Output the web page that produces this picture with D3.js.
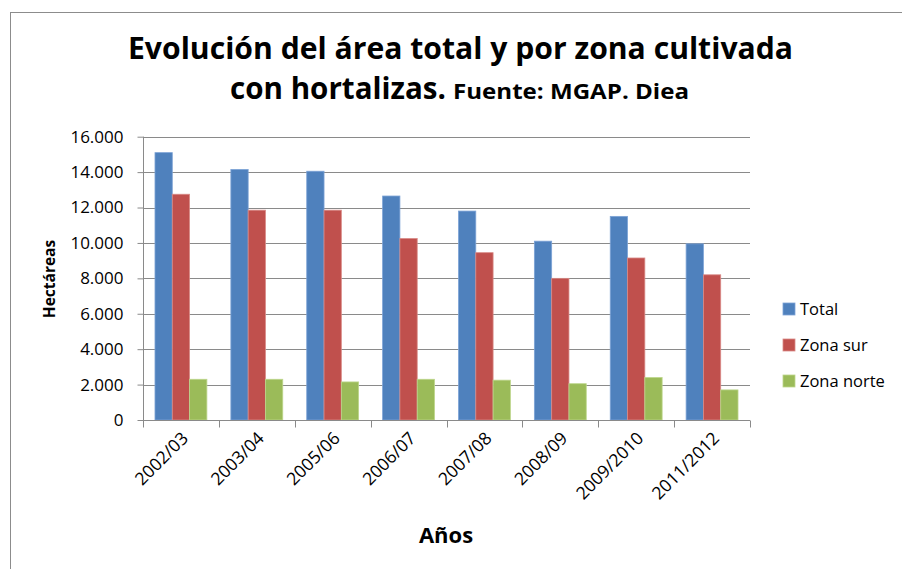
<!DOCTYPE html>
<html><head><meta charset="utf-8">
<script src="https://cdn.jsdelivr.net/npm/d3@7"></script>
<style>
body{margin:0;background:#fff;}
svg text{font-family:"Open Sans","Noto Sans",sans-serif;fill:#000;}
</style></head>
<body><svg id="c" width="902" height="569"></svg>
<script>
const categories = ["2002/03","2003/04","2005/06","2006/07","2007/08","2008/09","2009/2010","2011/2012"];
const seriesNames = ["Total","Zona sur","Zona norte"];
const total    = [15100,14150,14050,12650,11800,10100,11500,9950];
const zonaSur  = [12750,11850,11850,10250,9450,8000,9150,8200];
const zonaNorte= [2300,2300,2150,2300,2250,2050,2400,1700];
const yTicks = [0,2000,4000,6000,8000,10000,12000,14000,16000];
const colors = ["#4F81BD","#C0504D","#9BBB59"];
const strokes = ["#7DA3D6","#D98A87","#BDD68C"];

const series = [total, zonaSur, zonaNorte];
const svg = d3.select("#c");
const pLeft = 143, pRight = 750, pTop = 136.7, pBottom = 420;

// frame
svg.append("rect").attr("x",10.5).attr("y",12.5).attr("width",1000).attr("height",700)
  .attr("fill","none").attr("stroke","#8c8c8c").attr("stroke-width",1);

const x0 = d3.scaleBand().domain(categories).range([pLeft,pRight]).paddingInner(0).paddingOuter(0);
const bw = x0.bandwidth();
const x1 = d3.scaleBand().domain(seriesNames).range([bw*0.158, bw*0.842]).padding(0);
const y = d3.scaleLinear().domain([0,16000]).range([pBottom, pTop]);
const loc = d3.formatLocale({decimal:",",thousands:".",grouping:[3],currency:["$",""]});
const fmt = loc.format(",d");

// gridlines
svg.append("g").selectAll("line").data(yTicks.filter(d=>d>0)).join("line")
  .attr("x1",pLeft).attr("x2",pRight)
  .attr("y1",d=>Math.round(y(d))+0.5).attr("y2",d=>Math.round(y(d))+0.5)
  .attr("stroke","#8a8a8a").attr("stroke-width",1);

// bars
const g = svg.append("g");
categories.forEach((c,i)=>{
  seriesNames.forEach((s,j)=>{
    const v = series[j][i];
    g.append("rect")
      .attr("x", x0(c)+x1(s)).attr("width", x1.bandwidth())
      .attr("y", y(v)).attr("height", y(0)-y(v))
      .attr("fill", colors[j]).attr("stroke", strokes[j]).attr("stroke-width",0.8);
  });
});

// y axis
const yAxis = d3.axisLeft(y).tickValues(yTicks).tickFormat(fmt).tickSize(6).tickPadding(14);
const ya = svg.append("g").attr("transform",`translate(${pLeft+0.5},0)`).call(yAxis);
ya.select(".domain").attr("stroke","#8a8a8a").attr("d",`M-0,${pTop}V${pBottom}`);
ya.selectAll(".tick line").attr("stroke","#8a8a8a");
ya.selectAll(".tick text").attr("font-size",17).attr("fill","#111")
  .attr("font-family","'Open Sans',sans-serif");

// x axis
const xAxis = d3.axisBottom(x0).tickSize(0).tickFormat("");
const xa = svg.append("g").attr("transform",`translate(0,${Math.round(pBottom)+0.5})`).call(xAxis);
xa.select(".domain").attr("stroke","#8a8a8a").attr("d",`M${pLeft},0H${pRight}`);
const bounds = categories.map(c=>x0(c)).concat([pRight]);
xa.selectAll("line.bt").data(bounds).join("line").attr("class","bt")
  .attr("x1",d=>Math.round(d)+0.5).attr("x2",d=>Math.round(d)+0.5)
  .attr("y1",0).attr("y2",7).attr("stroke","#8a8a8a");
svg.append("g").selectAll("text").data(categories).join("text")
  .attr("transform",d=>`translate(${x0(d)+bw/2+4},${pBottom+15}) rotate(-45)`)
  .attr("text-anchor","end").attr("dy","0.35em")
  .attr("font-size",17.5).attr("fill","#111").text(d=>d);

// axis titles
svg.append("text").attr("transform","translate(55,279) rotate(-90)")
  .attr("text-anchor","middle").attr("font-size",15.5).attr("font-weight","bold").text("Hectáreas");
svg.append("text").attr("x",446).attr("y",543)
  .attr("text-anchor","middle").attr("font-size",22).attr("font-weight","bold").text("Años");

// title
svg.append("text").attr("x",128).attr("y",59).attr("font-size",30).attr("font-weight","bold")
  .attr("textLength",665).attr("lengthAdjust","spacingAndGlyphs")
  .text("Evolución del área total y por zona cultivada");
svg.append("text").attr("x",230).attr("y",99).attr("font-size",30).attr("font-weight","bold")
  .attr("textLength",216).attr("lengthAdjust","spacingAndGlyphs")
  .text("con hortalizas.");
svg.append("text").attr("x",453).attr("y",99).attr("font-size",21).attr("font-weight","bold")
  .attr("textLength",236).attr("lengthAdjust","spacingAndGlyphs")
  .text("Fuente: MGAP. Diea");

// legend
const lg = svg.append("g");
seriesNames.forEach((s,j)=>{
  const cy = 309 + j*36;
  lg.append("rect").attr("x",783).attr("y",cy-6).attr("width",12).attr("height",12)
    .attr("fill",colors[j]).attr("stroke",strokes[j]).attr("stroke-width",0.8);
  lg.append("text").attr("x",800).attr("y",cy).attr("dy","0.35em")
    .attr("font-size",16.5).attr("fill","#222").text(s);
});
</script></body></html>
